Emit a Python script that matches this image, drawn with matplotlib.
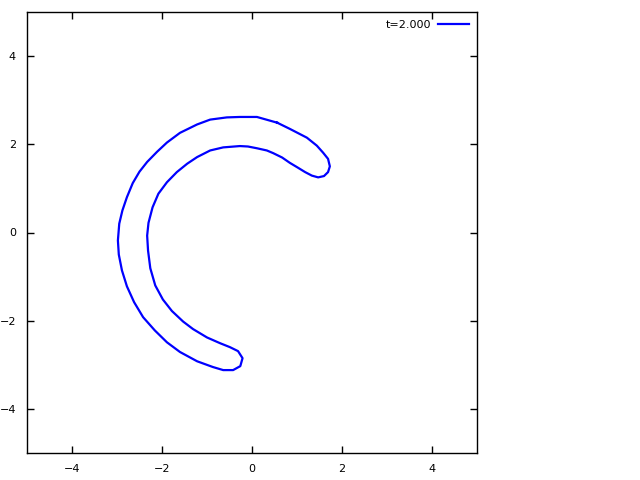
import matplotlib
matplotlib.use("Agg")
import matplotlib.pyplot as plt

# contour at t=2.000 (outer edge, bottom tip, inner edge, top tip)
xs = [0.56, 0.11, -0.27, -0.56, -0.93, -1.22, -1.60, -1.89, -2.11, -2.33, -2.50, -2.65,
      -2.78, -2.88, -2.95, -2.98, -2.96, -2.89, -2.78, -2.62, -2.42, -2.16, -1.89, -1.60,
      -1.22, -0.87, -0.64, -0.42, -0.26, -0.21, -0.31, -0.49, -0.71, -1.00, -1.31, -1.53,
      -1.78, -1.98, -2.15, -2.26, -2.31, -2.33, -2.30, -2.21, -2.08, -1.89, -1.67, -1.44,
      -1.22, -0.93, -0.64, -0.27, -0.09, 0.11, 0.33, 0.47, 0.67, 0.84, 1.02, 1.18,
      1.33, 1.47, 1.60, 1.69, 1.73, 1.69, 1.58, 1.44, 1.22, 0.84, 0.56]
ys = [2.49, 2.62, 2.62, 2.61, 2.56, 2.45, 2.26, 2.04, 1.83, 1.60, 1.38, 1.12,
      0.80, 0.50, 0.20, -0.18, -0.50, -0.86, -1.22, -1.58, -1.92, -2.22, -2.49, -2.71,
      -2.92, -3.05, -3.12, -3.12, -3.03, -2.85, -2.69, -2.60, -2.51, -2.38, -2.19, -2.02,
      -1.78, -1.52, -1.20, -0.81, -0.41, -0.07, 0.22, 0.57, 0.88, 1.14, 1.37, 1.56,
      1.71, 1.86, 1.93, 1.96, 1.95, 1.91, 1.86, 1.80, 1.70, 1.58, 1.47, 1.37,
      1.29, 1.25, 1.28, 1.37, 1.50, 1.67, 1.81, 1.97, 2.15, 2.35, 2.49]
label = "t=2.000"
ticks = [-4, -2, 0, 2, 4]

fig = plt.figure(figsize=(6.4, 4.8), dpi=100)
ax = fig.add_axes([27 / 640, 27 / 480, 450 / 640, 441 / 480])

ax.plot(xs, ys, color="#0000ff", lw=1.6, label=label)

ax.set_xlim(-5, 5)
ax.set_ylim(-5, 5)
ax.set_xticks(ticks)
ax.set_yticks(ticks)
ax.tick_params(direction="in", top=True, right=True, length=5, width=1,
               labelsize=8, pad=8)
for s in ax.spines.values():
    s.set_linewidth(1)

ax.legend(loc="upper right", frameon=False, fontsize=8, markerfirst=False,
          handlelength=2.8, borderaxespad=0.3, handletextpad=0.6)

fig.savefig("out.png", dpi=100)
